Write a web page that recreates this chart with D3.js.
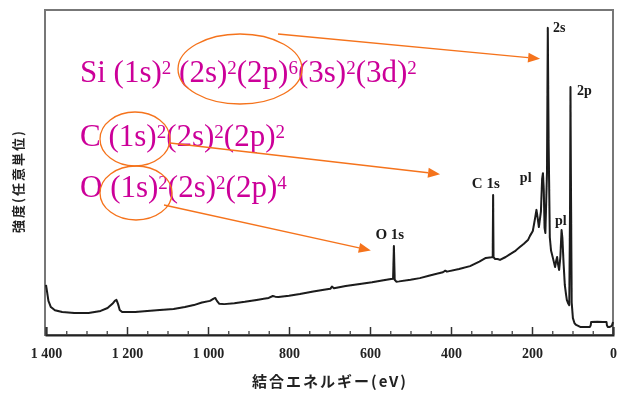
<!DOCTYPE html>
<html>
<head>
<meta charset="utf-8">
<script src="https://d3js.org/d3.v7.min.js"></script>
<style>
  body { margin: 0; background: #fff; }
  svg { display: block; }
</style>
</head>
<body>
<script>
// XPS survey spectrum, binding energy (eV) vs intensity (arb. units 0-100)
const energy = [1400, 1398, 1394, 1388, 1378, 1360, 1330, 1295, 1265, 1248, 1236, 1230, 1226, 1222, 1218, 1212,
  1180, 1150, 1119, 1085, 1057, 1035, 1015, 995, 986, 982, 978, 972, 960, 935, 909, 880, 850, 840, 834, 826,
  800, 773, 740, 710, 698, 694, 689, 660, 625, 595, 563, 548, 543, 541, 539, 535, 528, 500, 477, 450, 420,
  414, 410, 380, 353, 330, 314, 300, 297, 296, 295, 291, 285, 279, 265, 254, 242, 230, 220, 210, 205, 198,
  193, 189, 186, 183, 178, 175, 173, 171, 169, 167, 163, 161, 159, 156, 153, 148, 143, 140, 138, 136, 133,
  130, 127, 125, 122, 119, 116, 114, 111, 108, 106, 105, 104, 102, 99, 95, 91, 81, 70, 57, 55, 54, 40, 25,
  16, 15, 13, 8, 3, 1, 0];
const intensity = [15.4, 13.8, 10.5, 8.6, 7.6, 7.1, 6.8, 6.8, 7.4, 8.3, 9.6, 10.5, 10.8, 9.5, 7.7, 7.1,
  7.1, 7.4, 7.7, 8.0, 8.6, 9.2, 10.0, 10.5, 11.2, 11.4, 10.5, 9.6, 9.5, 9.8, 10.2, 10.8, 11.4, 12.0, 11.8, 11.7,
  12.1, 12.6, 13.4, 14.0, 14.2, 14.9, 14.4, 15.1, 15.7, 16.2, 16.9, 17.2, 17.3, 27.4, 17.0, 16.4, 16.5, 17.0, 17.5, 18.4, 19.3,
  19.8, 19.5, 20.3, 21.2, 22.6, 23.7, 23.9, 24.0, 43.1, 23.9, 23.4, 23.4, 23.1, 24.0, 24.9, 25.8, 27.1, 28.1, 29.2, 30.5, 32.0,
  35.5, 38.5, 36.0, 33.2, 38.0, 48.0, 49.8, 45.0, 33.0, 31.4, 50.0, 94.5, 60.0, 30.0, 26.0, 23.5, 20.9, 23.0, 24.0, 22.0, 20.0,
  24.0, 32.3, 30.0, 22.0, 15.4, 12.5, 10.8, 9.8, 9.2, 40.0, 76.3, 50.0, 10.0, 5.2, 3.6, 3.1, 2.5, 2.5, 2.5, 3.0, 4.0, 4.1, 4.0,
  4.0, 3.0, 2.5, 2.5, 2.8, 3.5, 4.0];

const xTicks = [1400, 1200, 1000, 800, 600, 400, 200, 0];
const xTickLabels = ["1 400", "1 200", "1 000", "800", "600", "400", "200", "0"];
const xMinorTicks = d3.range(0, 1401, 50).filter(v => v % 200 !== 0);

const peakNames = ["2s", "2p", "pl", "pl", "C 1s", "O 1s"];
const peakNameEnergy = [148, 89, 230, 143, 314, 551];
const peakNameLevel = [93.2, 73.8, 47.1, 33.8, 45.2, 29.5];

const xTitle = "結合エネルギー(eV)";
const yTitle = "強度(任意単位)";

// electron configurations written over the plot (text, is superscript)
const configLines = [
  [["Si (1s)", 0], ["2", 1], [" (2s)", 0], ["2", 1], ["(2p)", 0], ["6", 1], ["(3s)", 0], ["2", 1], ["(3d)", 0], ["2", 1]],
  [["C (1s)", 0], ["2", 1], ["(2s)", 0], ["2", 1], ["(2p)", 0], ["2", 1]],
  [["O (1s)", 0], ["2", 1], ["(2s)", 0], ["2", 1], ["(2p)", 0], ["4", 1]]
];
// arrow targets (eV, intensity)
const arrowEnergy = [180, 427, 598];
const arrowLevel = [85, 49.5, 26];

const W = 619, H = 394;
const margin = { top: 10, right: 6, bottom: 59, left: 46 };

const svg = d3.select("body").append("svg")
  .attr("width", W)
  .attr("height", H);

svg.append("defs").append("filter")
  .attr("id", "scan")
  .append("feGaussianBlur")
  .attr("stdDeviation", 0.45);

const x = d3.scaleLinear().domain([1400, 0]).range([margin.left, W - margin.right]);
const y = d3.scaleLinear().domain([0, 100]).range([H - margin.bottom, margin.top]);

const chart = svg.append("g").attr("filter", "url(#scan)");

// frame
chart.append("rect")
  .attr("x", x(1400) - 1)
  .attr("y", y(100))
  .attr("width", x(0) - x(1400) + 1)
  .attr("height", y(0) - y(100))
  .attr("fill", "none")
  .attr("stroke", "#777")
  .attr("stroke-width", 2);

// bottom axis, ticks pointing inward
const axis = chart.append("g")
  .attr("transform", "translate(0," + y(0) + ")")
  .call(d3.axisBottom(x)
    .tickValues(xTicks)
    .tickSize(-8)
    .tickPadding(13)
    .tickFormat((d, i) => xTickLabels[i]));
axis.select(".domain").attr("stroke", "#222").attr("stroke-width", 2);
axis.selectAll(".tick line").attr("stroke", "#333").attr("stroke-width", 1.5);
axis.selectAll(".tick text")
  .attr("fill", "#222")
  .style("font-family", "Liberation Serif")
  .style("font-size", "14px")
  .style("font-weight", "bold");

const minor = chart.append("g")
  .attr("transform", "translate(0," + y(0) + ")")
  .call(d3.axisBottom(x).tickValues(xMinorTicks).tickSize(-4).tickFormat(""));
minor.select(".domain").remove();
minor.selectAll(".tick line").attr("stroke", "#444").attr("stroke-width", 1.3);

// spectrum
const line = d3.line()
  .x((d, i) => x(energy[i]))
  .y((d, i) => y(intensity[i]));

chart.append("path")
  .datum(energy)
  .attr("d", line)
  .attr("fill", "none")
  .attr("stroke", "#1a1a1a")
  .attr("stroke-width", 2)
  .attr("stroke-linejoin", "round");

// peak names
chart.selectAll(".peak")
  .data(peakNames)
  .enter().append("text")
  .attr("class", "peak")
  .attr("x", (d, i) => x(peakNameEnergy[i]))
  .attr("y", (d, i) => y(peakNameLevel[i]))
  .attr("text-anchor", d => d.length > 2 ? "middle" : "start")
  .attr("fill", "#1a1a1a")
  .style("font-family", "Liberation Serif")
  .style("font-weight", "bold")
  .style("font-size", d => d.length > 2 ? "15px" : "14px")
  .text(d => d);

// axis titles
chart.append("text")
  .attr("x", 330)
  .attr("y", 387)
  .attr("text-anchor", "middle")
  .attr("fill", "#222")
  .style("font-family", "Noto Sans CJK JP")
  .style("font-weight", "bold")
  .style("font-size", "15px")
  .style("letter-spacing", "2px")
  .text(xTitle);

chart.append("text")
  .attr("transform", "translate(23,181) rotate(-90)")
  .attr("text-anchor", "middle")
  .attr("fill", "#222")
  .style("font-family", "Noto Sans CJK JP")
  .style("font-weight", "bold")
  .style("font-size", "13px")
  .style("letter-spacing", "2px")
  .text(yTitle);

// annotations
const magenta = "#cc0099", orange = "#f5731c";
const baselines = [82, 146, 197];
const raise = 8;

configLines.forEach((segs, k) => {
  const t = svg.append("text")
    .attr("x", 80)
    .attr("y", baselines[k])
    .attr("fill", magenta)
    .style("font-family", "Liberation Serif")
    .style("font-size", "31px");
  let up = false;
  segs.forEach(([s, sup]) => {
    let dy = 0;
    if (sup && !up) dy = -raise;
    if (!sup && up) dy = raise;
    up = !!sup;
    t.append("tspan")
      .attr("dy", dy)
      .style("font-size", sup ? "19px" : null)
      .text(s);
  });
});

const ellipses = [[240, 69, 62, 35], [135, 139, 35, 27], [136, 193, 36, 27]];
svg.selectAll(".ring")
  .data(ellipses)
  .enter().append("ellipse")
  .attr("cx", d => d[0])
  .attr("cy", d => d[1])
  .attr("rx", d => d[2])
  .attr("ry", d => d[3])
  .attr("fill", "none")
  .attr("stroke", orange)
  .attr("stroke-width", 1.3);

const arrowStarts = [[278, 34], [170, 143], [164, 205]];
arrowStarts.forEach(([sx, sy], i) => {
  const tx = x(arrowEnergy[i]), ty = y(arrowLevel[i]);
  const a = Math.atan2(ty - sy, tx - sx);
  const len = 12, hw = 5;
  const bx = tx - len * Math.cos(a), by = ty - len * Math.sin(a);
  svg.append("line")
    .attr("x1", sx).attr("y1", sy)
    .attr("x2", bx).attr("y2", by)
    .attr("stroke", orange)
    .attr("stroke-width", 1.3);
  svg.append("path")
    .attr("d", "M" + tx + "," + ty +
      "L" + (bx - hw * Math.sin(a)) + "," + (by + hw * Math.cos(a)) +
      "L" + (bx + hw * Math.sin(a)) + "," + (by - hw * Math.cos(a)) + "Z")
    .attr("fill", orange);
});
</script>
</body>
</html>
